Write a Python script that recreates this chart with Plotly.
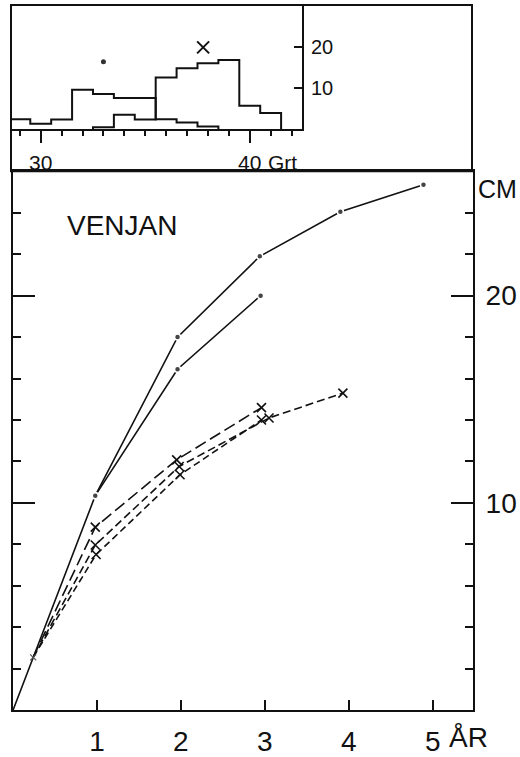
import plotly.graph_objects as go

W, H = 520, 757

# ---------------- main chart data (age in years, length in cm) ----------------
solid_low_age = [0, 0.24, 0.98, 1.96, 2.95]
solid_low_len = [0, 2.55, 10.35, 16.45, 20.0]
solid_up_age = [0.98, 1.96, 2.94, 3.90, 4.89]
solid_up_len = [10.35, 18.0, 21.9, 24.05, 25.35]
dash_a_age = [0.24, 0.98, 1.95, 2.96]
dash_a_len = [2.55, 8.83, 12.08, 14.6]
dash_b_age = [0.24, 0.98, 1.98, 3.05, 3.93]
dash_b_len = [2.55, 7.97, 11.76, 14.1, 15.3]
dash_c_age = [0.24, 0.99, 1.99, 2.96]
dash_c_len = [2.55, 7.51, 11.36, 14.0]

x_ticks = [1, 2, 3, 4, 5]
x_ticktext = ["1", "2", "3", "4", "5"]
y_ticks = [10, 20]

# ---------------- inset histogram data (Grt) ----------------
hist_o_centers = [29, 30, 31, 32, 33, 34, 35, 36, 37, 38]
hist_o_values = [2.4, 1.3, 2.3, 9.6, 8.6, 7.6, 7.6, 2.4, 1.6, 0.6]
hist_x_centers = [33, 34, 35, 36, 37, 38, 39, 40, 41]
hist_x_values = [0.4, 3.5, 2.3, 12.6, 14.9, 16.1, 16.9, 5.7, 3.9]
inset_o_label = (33.0, 16.5)
inset_x_label = (37.77, 20.0)
inset_x_ticks = [30, 40]
inset_y_ticks = [10, 20]

FONT = "Liberation Sans, Arial, sans-serif"
INK = "#111111"


def steps(centers, values):
    xs = [centers[0] - 0.5]
    ys = [0]
    for c, v in zip(centers, values):
        xs.append(c - 0.5)
        ys.append(v)
    xs.append(centers[-1] + 0.5)
    ys.append(values[-1])
    xs.append(centers[-1] + 0.5)
    ys.append(0)
    return xs, ys


fig = go.Figure()

# main lines
fig.add_trace(go.Scatter(x=solid_low_age, y=solid_low_len, mode="lines",
                         line=dict(color=INK, width=1.6)))
fig.add_trace(go.Scatter(x=solid_up_age, y=solid_up_len, mode="lines",
                         line=dict(color=INK, width=1.6)))
fig.add_trace(go.Scatter(x=dash_a_age, y=dash_a_len, mode="lines",
                         line=dict(color=INK, width=1.6, dash="12px,5px")))
fig.add_trace(go.Scatter(x=dash_b_age, y=dash_b_len, mode="lines",
                         line=dict(color=INK, width=1.6, dash="8px,4px")))
fig.add_trace(go.Scatter(x=dash_c_age, y=dash_c_len, mode="lines",
                         line=dict(color=INK, width=1.6, dash="7px,4px")))

# markers
fig.add_trace(go.Scatter(x=solid_low_age[2:], y=solid_low_len[2:], mode="markers",
                         marker=dict(symbol="circle", size=6, color="#444",
                                     line=dict(color="white", width=1.5))))
fig.add_trace(go.Scatter(x=solid_up_age, y=solid_up_len, mode="markers",
                         marker=dict(symbol="circle", size=6, color="#444",
                                     line=dict(color="white", width=1.5))))
for ax, ay in ((dash_a_age, dash_a_len), (dash_b_age, dash_b_len), (dash_c_age, dash_c_len)):
    fig.add_trace(go.Scatter(x=ax[1:], y=ay[1:], mode="markers",
                             marker=dict(symbol="x-thin", size=9,
                                         line=dict(color=INK, width=1.6))))
fig.add_trace(go.Scatter(x=[solid_low_age[1]], y=[solid_low_len[1]], mode="markers",
                         marker=dict(symbol="x-thin", size=6,
                                     line=dict(color="#555", width=1.2))))

# inset histograms
ox, oy = steps(hist_o_centers, hist_o_values)
xx, xy = steps(hist_x_centers, hist_x_values)
fig.add_trace(go.Scatter(x=ox, y=oy, mode="lines", xaxis="x2", yaxis="y2",
                         line=dict(color=INK, width=2, shape="hv")))
fig.add_trace(go.Scatter(x=xx, y=xy, mode="lines", xaxis="x2", yaxis="y2",
                         line=dict(color=INK, width=2, shape="hv")))
fig.add_trace(go.Scatter(x=[inset_o_label[0]], y=[inset_o_label[1]], mode="markers",
                         xaxis="x2", yaxis="y2",
                         marker=dict(symbol="circle", size=5, color="#333")))
fig.add_trace(go.Scatter(x=[inset_x_label[0]], y=[inset_x_label[1]], mode="markers",
                         xaxis="x2", yaxis="y2",
                         marker=dict(symbol="x-thin", size=12,
                                     line=dict(color=INK, width=2))))


def px_x(p):
    return p / W


def px_y(p):
    return 1 - p / H


fig.update_layout(
    width=W, height=H, autosize=False,
    margin=dict(l=0, r=0, t=0, b=0),
    paper_bgcolor="white", plot_bgcolor="white",
    showlegend=False,
    font=dict(family=FONT, color=INK),
    xaxis=dict(domain=[px_x(13), px_x(473)], range=[0, 5.48], anchor="y",
               showline=True, linewidth=2, linecolor=INK, mirror=True,
               ticks="inside", ticklen=10, tickwidth=2, tickcolor=INK,
               tickvals=x_ticks, ticktext=x_ticktext,
               tickfont=dict(size=28), ticklabelstandoff=5,
               showgrid=False, zeroline=False),
    yaxis=dict(domain=[px_y(713), px_y(172)], range=[0, 26], anchor="x",
               side="right", showline=True, linewidth=2, linecolor=INK,
               mirror="ticks", ticks="inside", ticklen=22, tickwidth=2,
               tickcolor=INK, tickvals=y_ticks, tickfont=dict(size=28),
               ticklabelstandoff=5,
               minor=dict(dtick=2, tick0=0, ticks="inside", ticklen=8,
                          tickwidth=1.5, tickcolor=INK),
               showgrid=False, zeroline=False),
    xaxis2=dict(domain=[px_x(10), px_x(302)], range=[28.53, 42.5], anchor="y2",
                showline=True, linewidth=2, linecolor=INK,
                ticks="outside", ticklen=12, tickwidth=1.5, tickcolor=INK,
                tickvals=inset_x_ticks, ticktext=["30", "40"],
                tickfont=dict(size=21), ticklabelstandoff=2,
                minor=dict(dtick=1, tick0=0, ticks="outside", ticklen=5,
                           tickwidth=1.5, tickcolor=INK),
                showgrid=False, zeroline=False),
    yaxis2=dict(domain=[px_y(129.5), px_y(5)], range=[0, 30.4], anchor="x2",
                side="right", showline=True, linewidth=2, linecolor=INK,
                ticks="inside", ticklen=8, tickwidth=2, tickcolor=INK,
                tickvals=inset_y_ticks, tickfont=dict(size=20),
                ticklabelstandoff=3,
                showgrid=False, zeroline=False),
)

fig.add_shape(type="rect", xref="paper", yref="paper",
              x0=px_x(11), x1=px_x(472), y0=px_y(172), y1=px_y(5),
              line=dict(color=INK, width=2), layer="above")

fig.add_annotation(text="VENJAN", x=0.62, y=23.37, xref="x", yref="y",
                   xanchor="left", yanchor="middle", showarrow=False,
                   font=dict(size=28, family=FONT, color=INK))
fig.add_annotation(text="CM", x=px_x(476), y=px_y(190), xref="paper", yref="paper",
                   xanchor="left", yanchor="middle", showarrow=False,
                   font=dict(size=25, family=FONT, color=INK))
fig.add_annotation(text="ÅR", x=px_x(447), y=px_y(740), xref="paper", yref="paper",
                   xanchor="left", yanchor="middle", showarrow=False,
                   font=dict(size=28, family=FONT, color=INK))
fig.add_annotation(text="Grt", x=px_x(266), y=px_y(163), xref="paper", yref="paper",
                   xanchor="left", yanchor="middle", showarrow=False,
                   font=dict(size=21, family=FONT, color=INK))

fig.write_html("out.html")
